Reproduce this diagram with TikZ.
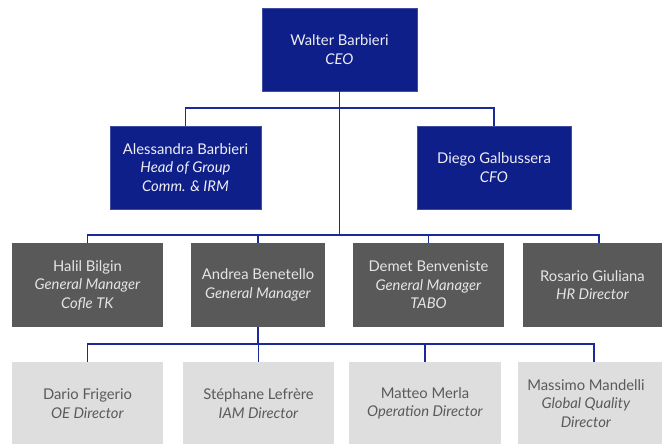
\documentclass[tikz,border=0pt]{standalone}
\usepackage{fontspec}
\setmainfont{Lato}
\usepackage{tikz}
\usetikzlibrary{calc,positioning}

\definecolor{chartblue}{HTML}{0F1F8A}
\definecolor{linkblue}{HTML}{1A2A99}
\definecolor{mgrgray}{HTML}{595959}
\definecolor{dirgray}{HTML}{DEDEDE}
\definecolor{dirtext}{HTML}{5A5A5A}
\definecolor{boardtext}{HTML}{EEEEF4}

\tikzset{
  person/.style={rectangle, inner sep=0pt, align=center,
    font=\fontsize{14.8}{18.5}\selectfont},
  board/.style={person, fill=chartblue, draw=chartblue!80!white, text=boardtext},
  mgr/.style={person, fill=mgrgray, text=white!90!black, minimum height=84pt},
  dir/.style={person, fill=dirgray, text=dirtext, minimum height=83pt},
  link/.style={draw=linkblue, line width=1.8pt}
}

\begin{document}
\begin{tikzpicture}[x=1pt, y=-1pt]
  \useasboundingbox (0,0) rectangle (662,444);
  % bus lines
  \coordinate (b2) at (0,108);
  \coordinate (b3) at (0,235);
  \coordinate (b4) at (0,344);

  % top level
  \node[board, minimum width=155pt, minimum height=83pt] (ceo) at (339.5,49.5)
    {Walter Barbieri\\\textit{CEO}};
  \node[board, minimum width=151pt, minimum height=83pt] (hgc) at (185.5,167.5)
    {Alessandra Barbieri\\\textit{Head of Group}\\\textit{Comm. \& IRM}};
  \node[board, minimum width=154pt, minimum height=83pt] (cfo) at (494,167.5)
    {Diego Galbussera\\\textit{CFO}};

  % managers
  \node[mgr, minimum width=151pt] (gmtk) at (87.5,285)
    {Halil Bilgin\\\textit{General Manager}\\\textit{Cofle TK}};
  \node[mgr, minimum width=134pt] (gm) at (258,285)
    {Andrea Benetello\\\textit{General Manager}};
  \node[mgr, minimum width=151pt] (gmtabo) at (428.5,285)
    {Demet Benveniste\\\textit{General Manager}\\\textit{TABO}};
  \node[mgr, minimum width=152pt] (hr) at (599,285) {};
  \node[person, text=white!90!black] (hrtext) at (592.5,285)
    {Rosario Giuliana\\\textit{HR Director}};

  % directors
  \node[dir, minimum width=151pt] (oe) at (87.5,403.5)
    {Dario Frigerio\\\textit{OE Director}};
  \node[dir, minimum width=151pt] (iam) at (258.5,403.5)
    {Stéphane Lefrère\\\textit{IAM Director}};
  \node[dir, minimum width=152pt] (ops) at (425,403.5)
    {Matteo Merla\\\textit{Operation Director}};
  \node[dir, minimum width=152pt] (gq) at (594,403.5) {};
  \node[person, text=dirtext] (gqtext) at (586,403.5)
    {Massimo Mandelli\\\textit{Global Quality}\\\textit{Director}};

  % connectors
  \path[link]
    (ceo.south) -- (ceo.south |- b3)
    (hgc.north) -- (hgc.north |- b2) -| (cfo.north)
    (gmtk.north) -- (gmtk.north |- b3) -| (hr.north)
    (gm.north) -- (gm.north |- b3)
    (gmtabo.north) -- (gmtabo.north |- b3)
    (gm.south) -- (gm.south |- b4)
    (oe.north) -- (oe.north |- b4) -| (gq.north)
    (iam.north) -- (iam.north |- b4)
    (ops.north) -- (ops.north |- b4);
\end{tikzpicture}
\end{document}
